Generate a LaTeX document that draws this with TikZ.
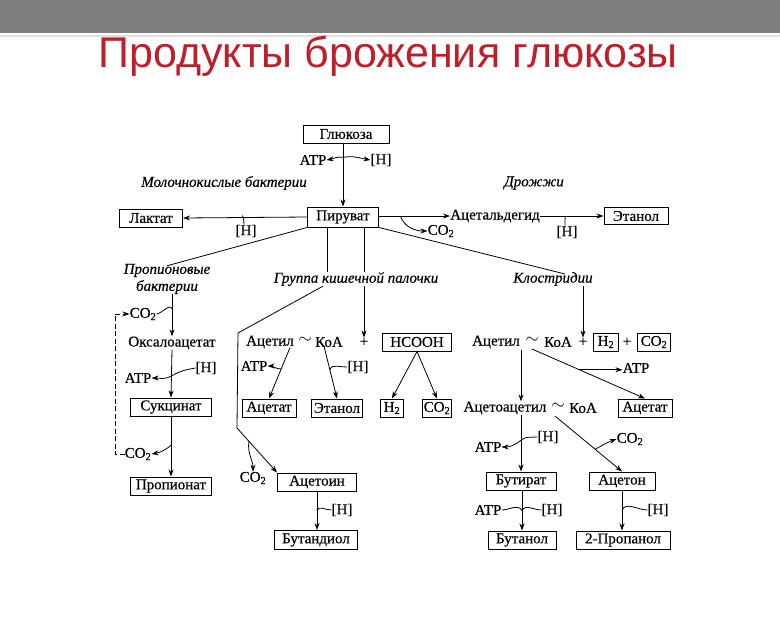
\documentclass[tikz,border=0pt]{standalone}
\usepackage{fontspec}
\setmainfont{Liberation Serif}
\newfontfamily\dfont[FakeBold=0.4]{Liberation Serif}
\newfontfamily\titlefont{Liberation Sans}
\usetikzlibrary{arrows.meta,calc}
\definecolor{titlered}{RGB}{192,30,42}
\definecolor{bargray}{RGB}{127,127,127}
\begin{document}
\begin{tikzpicture}[x=1pt,y=-1pt,
  box/.style={draw,line width=1pt,inner sep=0pt,minimum height=18pt,font=\dfont\fontsize{15}{15}\selectfont},
  txt/.style={inner sep=0pt,font=\dfont\fontsize{15}{15}\selectfont},
  tld/.style={inner sep=0pt,font=\fontsize{18}{18}\selectfont},
  itl/.style={inner sep=0pt,font=\dfont\fontsize{15}{17}\selectfont\itshape},
  arr/.style={-{Stealth[length=7pt,width=5pt]},line width=0.8pt},
  ln/.style={line width=0.8pt},
]
\useasboundingbox (0,0) rectangle (780,630);
\fill[white] (0,0) rectangle (780,630);
\fill[bargray] (0,0) rectangle (780,33);
\draw[black!12,line width=1.2pt] (0,36) -- (780,36);
\node[inner sep=0pt,text=titlered,font=\titlefont\fontsize{43}{43}\selectfont] (title) at (388,56) {Продукты брожения глюкозы};

% top part
\node[box,minimum width=86pt] (glu) at (346,134) {Глюкоза};
\node[txt] (atp0) at (313,160) {ATP};
\node[txt] (h0) at (381,160) {[H]};
\node[itl] (lab) at (224,183) {Молочнокислые бактерии};
\node[itl] (yeast) at (534,183) {Дрожжи};
\node[box,minimum width=71pt,minimum height=20pt] (pyr) at (343,217) {Пируват};
\node[box,minimum width=63pt] (lac) at (151,218) {Лактат};
\node[txt] (h1) at (246,231) {[H]};
\node[txt] (ald) at (495,216) {Ацетальдегид};
\node[txt] (co2a) at (441,231) {CO\textsubscript{2}};
\node[box,minimum width=64pt,minimum height=17pt] (eth1) at (636,216) {Этанол};
\node[txt] (h2) at (567,232) {[H]};
\node[itl,align=center] (prop) at (167,279) {Пропионовые\\бактерии};
\node[itl] (ecoli) at (356,279) {Группа кишечной палочки};
\node[itl] (clos) at (553,279) {Клостридии};

\coordinate (g1) at ($(glu.south -| pyr)!0.22!(pyr.north)$);
\draw[arr] (glu.south -| pyr) -- (pyr.north);
\draw[arr] (g1) to[out=170,in=10] (atp0.east);
\draw[arr] (g1) to[out=10,in=170] (h0.west);
\draw[arr] (pyr.west) -- (lac.east);
\coordinate (l1) at ($(pyr.west)!0.52!(lac.east)$);
\draw[ln] ([xshift=-2pt]h1.north) to[out=90,in=-70] ([yshift=2pt]l1);
\draw[arr] (pyr.east |- ald.west) -- (ald.west);
\coordinate (p1) at ($(pyr.east |- ald.west)!0.3!(ald.west)$);
\draw[arr] (p1) to[out=-70,in=180] (co2a.west);
\draw[arr] (ald.east) -- (eth1.west);
\coordinate (e1) at ($(ald.east)!0.4!(eth1.west)$);
\draw[ln] ([xshift=-2pt]h2.north) to[out=80,in=-110] (e1);
\draw[ln] (pyr.south west) -- ([yshift=-2pt]prop.north);
\draw[ln] (pyr.south east) -- ([xshift=12pt,yshift=-2pt]clos.north);
\draw[ln] ([xshift=-16pt]pyr.south) -- ([xshift=-16pt]pyr.south |- ecoli.north);
\draw[ln] ([xshift=21pt]pyr.south) -- ([xshift=21pt]pyr.south |- ecoli.north);

% left column: propionic bacteria
\node[txt] (co2b) at (143,314) {CO\textsubscript{2}};
\node[txt] (oxa) at (172,343) {Оксалоацетат};
\node[txt] (h3) at (206,368) {[H]};
\node[txt] (atp1) at (138,378) {ATP};
\node[box,minimum width=81pt] (suc) at (171,407) {Сукцинат};
\node[txt] (co2c) at (138,454) {CO\textsubscript{2}};
\node[box,minimum width=81pt] (pro) at (171,486) {Пропионат};
\coordinate (dl) at (115,0);

\draw[arr] (prop.south -| oxa) -- (oxa.north);
\coordinate (c1) at ($(prop.south -| oxa)!0.35!(oxa.north)$);
\draw[ln] (co2b.east) to[out=10,in=110] (c1);
\draw[arr] (oxa.south) -- (suc.north);
\coordinate (c2) at ($(oxa.south)!0.55!(suc.north)$);
\draw[arr] (h3.west) to[out=190,in=30] (c2) to[out=210,in=0] (atp1.east);
\draw[arr] (suc.south) -- (pro.north);
\coordinate (c3) at ($(suc.south)!0.48!(pro.north)$);
\draw[arr] (c3) to[out=220,in=10] (co2c.east);
\draw[arr,line width=1pt,dash pattern=on 5pt off 2.5pt] (co2c.west) -- (co2c.west -| dl) -- (co2b.west -| dl) -- (co2b.west);

% middle: E. coli group
\node[txt] (acet1) at (270,342) {Ацетил};
\node[tld] (til1) at (305,340) {$\sim$};
\node[txt] (koa1) at (329,342) {КоА};
\node[txt] (plus1) at (364,342) {+};
\node[box,minimum width=69pt] (hcooh) at (417,342) {HCOOH};
\node[txt] (atp2) at (254,366) {ATP};
\node[txt] (h4) at (358,367) {[H]};
\node[box,minimum width=54pt] (act1) at (269,408) {Ацетат};
\node[box,minimum width=51pt] (eth2) at (337,408) {Этанол};
\node[box,minimum width=23pt] (hh) at (392,408) {H\textsubscript{2}};
\node[box,minimum width=29pt] (co2d) at (437,408) {CO\textsubscript{2}};
\node[box,minimum width=79pt] (acn) at (317,482) {Ацетоин};
\node[txt] (co2e) at (253,478) {CO\textsubscript{2}};
\node[txt] (h5) at (342,510) {[H]};
\node[box,minimum width=83pt,minimum height=19pt] (btd) at (316,540) {Бутандиол};

\draw[arr] (ecoli.south -| plus1) -- (plus1.north);
\coordinate (b0) at ([xshift=-33pt]ecoli.south);
\coordinate (b1) at (238,333);
\coordinate (b2) at (237,428);
\draw[arr] (b0) -- (b1) -- (b2) -- (acn.north west);
\coordinate (b3) at ($(b2)!0.3!(acn.north west)$);
\draw[arr] (b3) to[out=-100,in=90] (co2e.north);
\draw[arr] (acn.south) -- (acn.south |- btd.north);
\coordinate (b4) at ($(acn.south)!0.5!(acn.south |- btd.north)$);
\draw[ln] (h5.west) to[out=180,in=80] (b4);

\coordinate (m1) at ([xshift=-4pt,yshift=1pt]acet1.south east);
\draw[arr] (m1) -- (act1.north);
\coordinate (m2) at ($(m1)!0.42!(act1.north)$);
\draw[arr] (m2) to[out=180,in=0] (atp2.east);
\coordinate (m3) at ([xshift=-5pt,yshift=1pt]koa1.south);
\draw[arr] (m3) -- (eth2.north);
\coordinate (m4) at ($(m3)!0.45!(eth2.north)$);
\draw[ln] (h4.west) to[out=185,in=70] (m4);
\draw[arr] (hcooh.south) -- (hh.north);
\draw[arr] (hcooh.south) -- (co2d.north);

% right: Clostridia
\node[txt] (acet2) at (496,342) {Ацетил};
\node[tld] (til2) at (532,340) {$\sim$};
\node[txt] (koa2) at (558,342) {КоА};
\node[txt] (plus2) at (583,342) {+};
\node[box,minimum width=25pt] (hh2) at (606,342) {H\textsubscript{2}};
\node[txt] (plus3) at (627,342) {+};
\node[box,minimum width=33pt] (co2g) at (654,342) {CO\textsubscript{2}};
\node[txt] (atp3) at (636,368) {ATP};
\node[txt] (aac) at (505,408) {Ацетоацетил};
\node[tld] (til3) at (558,406) {$\sim$};
\node[txt] (koa3) at (583,408) {КоА};
\node[box,minimum width=54pt] (act2) at (645,408) {Ацетат};
\node[txt] (h6) at (548,437) {[H]};
\node[txt] (atp4) at (488,447) {ATP};
\node[txt] (co2f) at (630,439) {CO\textsubscript{2}};
\node[box,minimum width=70pt] (but) at (521,481) {Бутират};
\node[box,minimum width=66pt] (acetone) at (622,481) {Ацетон};
\node[txt] (atp5) at (488,510) {ATP};
\node[txt] (h7) at (552,510) {[H]};
\node[txt] (h8) at (658,510) {[H]};
\node[box,minimum width=68pt] (btn) at (522,540) {Бутанол};
\node[box,minimum width=94pt] (prp) at (623,540) {2-Пропанол};

\draw[arr] (clos.south -| plus2) -- (plus2.north);
\coordinate (r0) at (521,350);
\draw[arr] (r0) -- (r0 |- aac.north);
\coordinate (r1) at (532,349);
\draw[arr] (r1) -- (act2.north);
\coordinate (r2) at ($(r1)!0.42!(act2.north)$);
\draw[arr] (r2) -- (r2 -| atp3.west);
\draw[arr] (aac.south -| but) -- (but.north);
\coordinate (r3) at ($(aac.south -| but)!0.45!(but.north)$);
\draw[arr] (h6.west) to[out=185,in=40] (r3) to[out=220,in=0] (atp4.east);
\coordinate (r4) at (555,416);
\draw[arr] (r4) -- (acetone.north);
\coordinate (r5) at ($(r4)!0.6!(acetone.north)$);
\draw[arr] (r5) to[out=30,in=200] (co2f.west);
\draw[arr] (but.south -| btn) -- (btn.north);
\coordinate (r6) at ($(but.south -| btn)!0.5!(btn.north)$);
\draw[ln] (atp5.east) to[out=0,in=120] (r6);
\draw[ln] (h7.west) to[out=180,in=60] (r6);
\draw[arr] (acetone.south) -- (acetone.south |- prp.north);
\coordinate (r7) at ($(acetone.south)!0.5!(acetone.south |- prp.north)$);
\draw[ln] (h8.west) to[out=180,in=70] (r7);
\end{tikzpicture}
\end{document}
